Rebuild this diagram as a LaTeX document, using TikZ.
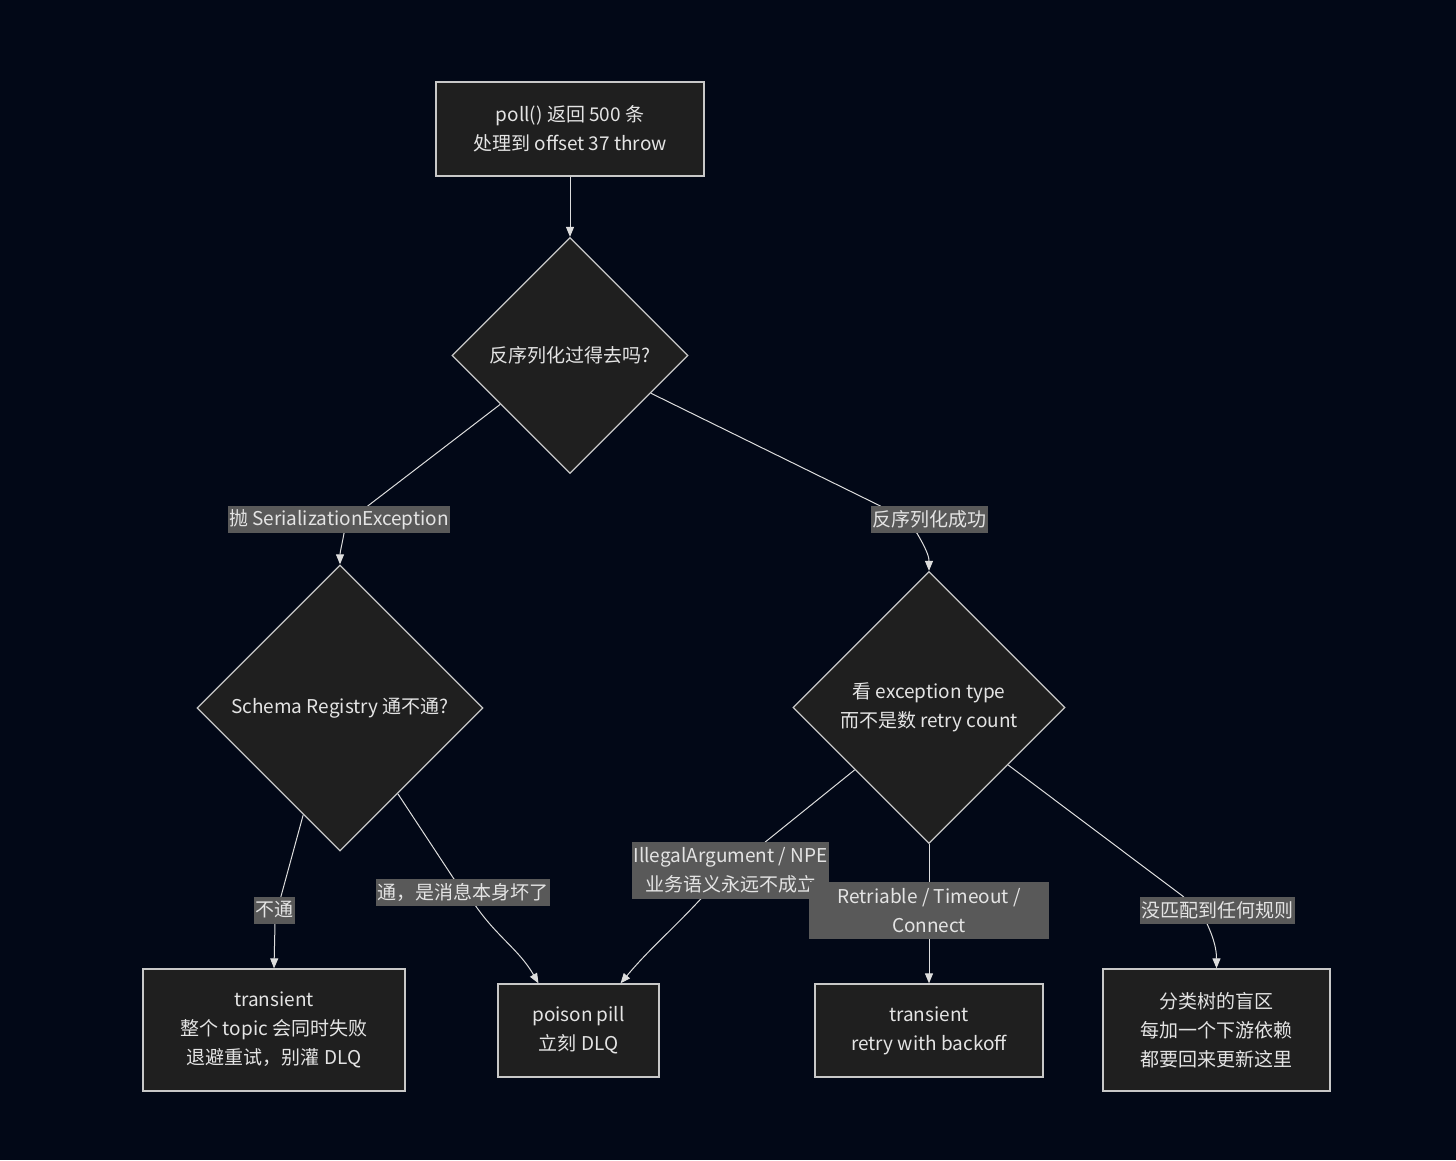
\documentclass[tikz,border=0pt]{standalone}
\usepackage{fontspec}
\setmainfont{Noto Sans CJK SC}
\usetikzlibrary{shapes.geometric,arrows.meta,calc}
\definecolor{pagenavy}{HTML}{020817}
\definecolor{nodefill}{HTML}{1F1F1F}
\definecolor{linegray}{HTML}{C8C8C8}
\definecolor{edgegray}{HTML}{DDDDDD}
\definecolor{tagfill}{HTML}{595959}
\definecolor{txtgray}{HTML}{E4E4E4}
\pgfdeclarelayer{back}
\pgfdeclarelayer{edges}
\pgfsetlayers{back,edges,main}
\begin{document}
\begin{tikzpicture}[x=1pt,y=1pt,
    every node/.style={text=txtgray,font=\fontsize{19}{29}\selectfont},
    box/.style={draw=linegray,line width=1.3pt,fill=nodefill,align=center,inner sep=2pt},
    ask/.style={diamond,aspect=1,draw=linegray,line width=1.3pt,fill=nodefill,align=center,inner sep=0pt,minimum width=#1,minimum height=#1},
    tag/.style={fill=tagfill,align=center,inner xsep=1.5pt,inner ysep=2pt,minimum height=27pt},
    flow/.style={draw=edgegray,line width=1pt,-{Triangle[length=10pt,width=8pt]}}]
    \begin{pgfonlayer}{back}
      \fill[pagenavy] (0,0) rectangle (1456,-1160);
    \end{pgfonlayer}
    \useasboundingbox (0,0) rectangle (1456,-1160);
    % boxes and questions
    \node[box,minimum width=268pt,minimum height=94pt] (poll) at (570,-129) {poll() 返回 500 条\\处理到 offset 37 throw};
    \node[ask=236pt] (d1) at (570,-355.5) {反序列化过得去吗?};
    \node[ask=286pt] (d2) at (340,-708) {Schema Registry 通不通?};
    \node[ask=272pt] (d3) at (929,-707.5) {看 exception type\\而不是数 retry count};
    \node[box,minimum width=262pt,minimum height=122pt] (t1) at (274,-1030) {transient\\整个 topic 会同时失败\\退避重试，别灌 DLQ};
    \node[box,minimum width=161pt,minimum height=93pt] (pp) at (578.5,-1030.5) {poison pill\\立刻 DLQ};
    \node[box,minimum width=228pt,minimum height=93pt] (t2) at (929,-1030.5) {transient\\retry with backoff};
    \node[box,minimum width=227pt,minimum height=122pt] (t3) at (1216.5,-1030) {分类树的盲区\\每加一个下游依赖\\都要回来更新这里};
    % edge labels
    \node[tag] (lblSE) at (339,-519.5) {抛 SerializationException};
    \node[tag] (lblOK) at (929,-519.5) {反序列化成功};
    \node[tag] (lblNo) at (274,-910) {不通};
    \node[tag] (lblYes) at (462.5,-892) {通，是消息本身坏了};
    \node[tag,minimum height=57pt] (lblIll) at (730.5,-870.5) {IllegalArgument / NPE\\业务语义永远不成立};
    \node[tag,minimum height=57pt,minimum width=240pt] (lblRet) at (929,-910.5) {Retriable / Timeout /\\Connect};
    \node[tag] (lblNone) at (1217,-910) {没匹配到任何规则};
    % connectors
    \begin{pgfonlayer}{edges}
      \draw[flow] (poll.south) -- (d1.north);
      \draw[flow] (d1.215) -- ($(lblSE.north)+(29,0)$) -- ($(lblSE.south)+(5,0)$) to[out=-100,in=90] (d2.north);
      \draw[flow] (d1.-25) -- ($(lblOK.north)+(-49,0)$) -- ($(lblOK.south)+(-12,0)$) to[out=-60,in=90] (d3.north);
      \draw[flow] (d2.251) -- ($(lblNo.north)+(7,0)$) -- ($(lblNo.south)+(1,0)$) -- (t1.north);
      \draw[flow] (d2.-56) -- ($(lblYes.north)+(-9,0)$) -- ($(lblYes.south)+(13,0)$) to[out=-55,in=120] ($(pp.north)+(-40,0)$);
      \draw[flow] (d3.220) -- ($(lblIll.north)+(35,0)$) -- ($(lblIll.south)+(-30,0)$) to[out=-133,in=50] ($(pp.north)+(42,0)$);
      \draw[flow] (d3.south) -- (lblRet.center) -- (t2.north);
      \draw[flow] (d3.-36) -- ($(lblNone.north)+(-34,0)$) -- ($(lblNone.south)+(-10,0)$) to[out=-65,in=90] (t3.north);
    \end{pgfonlayer}
  \end{tikzpicture}
\end{document}
